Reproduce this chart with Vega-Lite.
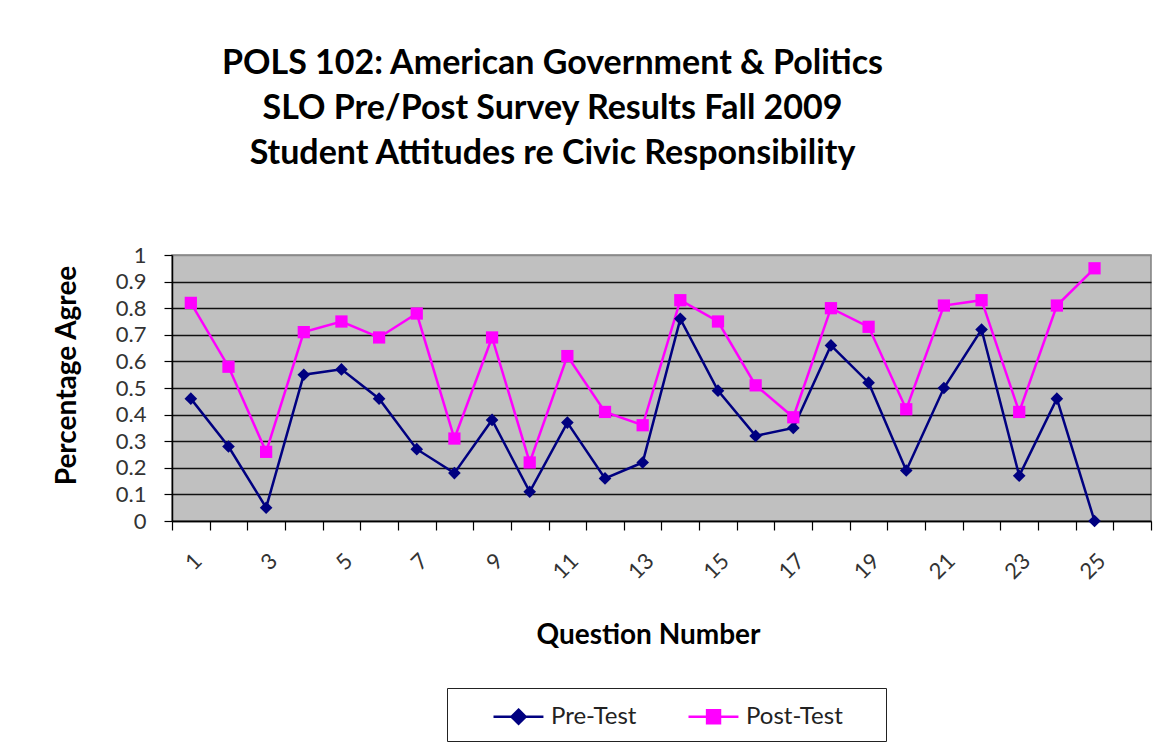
{
  "$schema": "https://vega.github.io/schema/vega-lite/v6.json",
  "autosize": {"type": "none"},
  "width": 979,
  "height": 266,
  "padding": {"left": 172, "top": 255, "right": 18, "bottom": 233},
  "background": "white",
  "title": {
    "text": ["POLS 102:  American Government & Politics", "SLO Pre/Post Survey Results Fall  2009", "Student Attitudes re Civic Responsibility"],
    "font": "Lato",
    "fontSize": 34,
    "fontWeight": "bold",
    "color": "#000000",
    "lineHeight": 45,
    "anchor": "middle",
    "frame": "group",
    "dx": -109,
    "offset": 73
  },
  "data": {
    "values": [
      {"q": 1, "series": "Pre-Test", "value": 0.46},
      {"q": 2, "series": "Pre-Test", "value": 0.28},
      {"q": 3, "series": "Pre-Test", "value": 0.05},
      {"q": 4, "series": "Pre-Test", "value": 0.55},
      {"q": 5, "series": "Pre-Test", "value": 0.57},
      {"q": 6, "series": "Pre-Test", "value": 0.46},
      {"q": 7, "series": "Pre-Test", "value": 0.27},
      {"q": 8, "series": "Pre-Test", "value": 0.18},
      {"q": 9, "series": "Pre-Test", "value": 0.38},
      {"q": 10, "series": "Pre-Test", "value": 0.11},
      {"q": 11, "series": "Pre-Test", "value": 0.37},
      {"q": 12, "series": "Pre-Test", "value": 0.16},
      {"q": 13, "series": "Pre-Test", "value": 0.22},
      {"q": 14, "series": "Pre-Test", "value": 0.76},
      {"q": 15, "series": "Pre-Test", "value": 0.49},
      {"q": 16, "series": "Pre-Test", "value": 0.32},
      {"q": 17, "series": "Pre-Test", "value": 0.35},
      {"q": 18, "series": "Pre-Test", "value": 0.66},
      {"q": 19, "series": "Pre-Test", "value": 0.52},
      {"q": 20, "series": "Pre-Test", "value": 0.19},
      {"q": 21, "series": "Pre-Test", "value": 0.50},
      {"q": 22, "series": "Pre-Test", "value": 0.72},
      {"q": 23, "series": "Pre-Test", "value": 0.17},
      {"q": 24, "series": "Pre-Test", "value": 0.46},
      {"q": 25, "series": "Pre-Test", "value": 0.0},
      {"q": 1, "series": "Post-Test", "value": 0.82},
      {"q": 2, "series": "Post-Test", "value": 0.58},
      {"q": 3, "series": "Post-Test", "value": 0.26},
      {"q": 4, "series": "Post-Test", "value": 0.71},
      {"q": 5, "series": "Post-Test", "value": 0.75},
      {"q": 6, "series": "Post-Test", "value": 0.69},
      {"q": 7, "series": "Post-Test", "value": 0.78},
      {"q": 8, "series": "Post-Test", "value": 0.31},
      {"q": 9, "series": "Post-Test", "value": 0.69},
      {"q": 10, "series": "Post-Test", "value": 0.22},
      {"q": 11, "series": "Post-Test", "value": 0.62},
      {"q": 12, "series": "Post-Test", "value": 0.41},
      {"q": 13, "series": "Post-Test", "value": 0.36},
      {"q": 14, "series": "Post-Test", "value": 0.83},
      {"q": 15, "series": "Post-Test", "value": 0.75},
      {"q": 16, "series": "Post-Test", "value": 0.51},
      {"q": 17, "series": "Post-Test", "value": 0.39},
      {"q": 18, "series": "Post-Test", "value": 0.80},
      {"q": 19, "series": "Post-Test", "value": 0.73},
      {"q": 20, "series": "Post-Test", "value": 0.42},
      {"q": 21, "series": "Post-Test", "value": 0.81},
      {"q": 22, "series": "Post-Test", "value": 0.83},
      {"q": 23, "series": "Post-Test", "value": 0.41},
      {"q": 24, "series": "Post-Test", "value": 0.81},
      {"q": 25, "series": "Post-Test", "value": 0.95}
    ]
  },
  "encoding": {
    "x": {
      "field": "q",
      "type": "ordinal",
      "bandPosition": 0.5,
      "scale": {"type": "band", "domain": [1,2,3,4,5,6,7,8,9,10,11,12,13,14,15,16,17,18,19,20,21,22,23,24,25,26], "paddingInner": 0, "paddingOuter": 0},
      "axis": {
        "title": "Question Number",
        "titleFont": "Lato",
        "titleFontSize": 28,
        "titleFontWeight": "bold",
        "titleColor": "#000000",
        "titleX": 476,
        "titleY": 122,
        "titleAlign": "center",
        "titleBaseline": "alphabetic",
        "labelAngle": -45,
        "labelExpr": "datum.value % 2 == 1 ? datum.label : ''",
        "labelFont": "Lato",
        "labelFontSize": 22,
        "labelColor": "#333333",
        "labelPadding": 20,
        "tickBand": "extent",
        "tickSize": 9,
        "tickColor": "#000000",
        "tickWidth": 1.2,
        "domainColor": "#000000",
        "domainWidth": 1.5,
        "grid": false
      }
    },
    "y": {
      "field": "value",
      "type": "quantitative",
      "scale": {"domain": [0, 1], "nice": false, "zero": true},
      "axis": {
        "title": "Percentage Agree",
        "titleFont": "Lato",
        "titleFontSize": 28,
        "titleFontWeight": "bold",
        "titleColor": "#000000",
        "titleAngle": -90,
        "titleX": -105,
        "titleY": 120,
        "titleAlign": "center",
        "titleBaseline": "middle",
        "values": [0, 0.1, 0.2, 0.3, 0.4, 0.5, 0.6, 0.7, 0.8, 0.9, 1],
        "labelExpr": "datum.value == 0 ? '0' : datum.value == 1 ? '1' : format(datum.value, '.1f')",
        "labelFont": "Lato",
        "labelFontSize": 22,
        "labelColor": "#333333",
        "labelPadding": 18,
        "tickSize": 8,
        "tickColor": "#000000",
        "tickWidth": 1.2,
        "domainColor": "#000000",
        "domainWidth": 1.5,
        "grid": true,
        "gridColor": {"condition": {"test": "datum.value === 1", "value": "#8a8a8a"}, "value": "#111111"},
        "gridWidth": 1.5
      }
    },
    "color": {
      "field": "series",
      "type": "nominal",
      "scale": {"domain": ["Pre-Test", "Post-Test"], "range": ["#000080", "#FF00FF"]},
      "legend": {
        "title": null,
        "orient": "none",
        "legendX": 275,
        "legendY": 433,
        "direction": "horizontal",
        "columns": 2,
        "padding": 12,
        "strokeColor": "#222222",
        "fillColor": "#FFFFFF",
        "labelFont": "Lato",
        "labelFontSize": 24,
        "labelColor": "#222222",
        "symbolSize": 900,
        "symbolType": {"expr": "datum.value === 'Pre-Test' ? 'M1.2,0L4.53,0M2.87,-0.47L3.34,0L2.87,0.47L2.4,0Z' : 'M1.2,0L4.53,0M2.44,-0.43L3.3,-0.43L3.3,0.43L2.44,0.43Z'"},
        "symbolStrokeWidth": 2.5,
        "symbolOpacity": 1,
        "labelOffset": 59,
        "columnPadding": 17,
        "labelExpr": "datum.value == 'Post-Test' ? 'Post-Test\u00a0\u00a0\u2800' : datum.label"
      }
    }
  },
  "layer": [
    {
      "mark": {"type": "line", "strokeWidth": 2.5}
    },
    {
      "transform": [{"filter": "datum.series === 'Pre-Test'"}],
      "mark": {"type": "point", "shape": "diamond", "filled": true, "opacity": 1, "size": 160}
    },
    {
      "transform": [{"filter": "datum.series === 'Post-Test'"}],
      "mark": {"type": "point", "shape": "square", "filled": true, "opacity": 1, "size": 150}
    }
  ],
  "config": {
    "view": {"fill": "#C0C0C0", "stroke": "#808080", "strokeWidth": 1.5},
    "font": "Lato"
  }
}
